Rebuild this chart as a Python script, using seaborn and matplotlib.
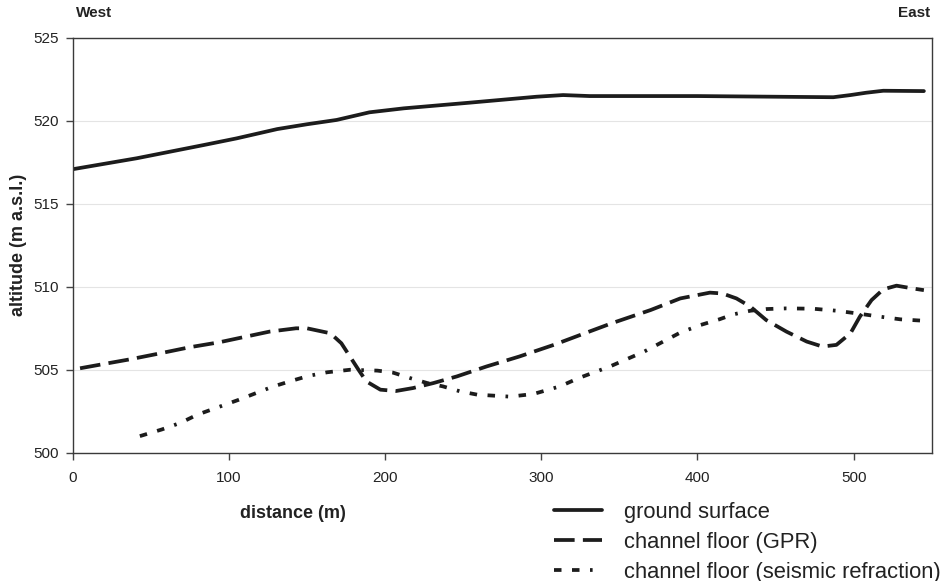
import matplotlib
matplotlib.use("Agg")
import matplotlib.pyplot as plt
import seaborn as sns
import pandas as pd

# Ground surface profile (distance in m, altitude in m a.s.l.)
ground_x = [0, 41, 84, 105, 131, 150, 169, 190, 212, 254, 297, 314, 331, 400,
            487, 498, 508, 519, 545]
ground_y = [517.09, 517.75, 518.55, 518.95, 519.51, 519.8, 520.06, 520.52,
            520.76, 521.1, 521.46, 521.56, 521.5, 521.5, 521.43, 521.56,
            521.7, 521.82, 521.8]

# Channel floor from ground-penetrating radar
gpr_x = [4.7, 20, 36.7, 53.8, 75, 94, 111, 126, 143, 150, 165, 172, 177.5,
         183, 188, 197, 207, 218, 231, 246, 265, 286, 308, 325, 345, 370,
         389, 408, 416, 425, 434, 444, 457, 470, 480, 489, 498, 504, 511.5,
         519, 527.5, 538, 545]
gpr_y = [505.09, 505.35, 505.63, 505.95, 506.36, 506.66, 507.0, 507.3,
         507.5, 507.5, 507.2, 506.6, 505.8, 505.0, 504.3, 503.8, 503.72,
         503.9, 504.2, 504.6, 505.2, 505.8, 506.5, 507.1, 507.8, 508.6,
         509.3, 509.65, 509.6, 509.3, 508.8, 508.0, 507.3, 506.7, 506.4,
         506.5, 507.2, 508.2, 509.2, 509.85, 510.07, 509.9, 509.8]

# Channel floor from seismic refraction
seis_x = [43, 57, 69, 80, 93, 106, 117, 128, 140, 151, 163, 177.5, 195, 205,
          216, 227, 237, 248, 259, 280, 295, 312, 324, 344, 366, 389, 402,
          414, 423, 434, 444, 457, 474, 489, 502, 517, 530, 544]
seis_y = [501.0, 501.4, 501.8, 502.3, 502.74, 503.18, 503.58, 503.98,
          504.33, 504.63, 504.85, 505.0, 504.95, 504.83, 504.5, 504.2, 504.0,
          503.7, 503.5, 503.38, 503.54, 504.0, 504.5, 505.2, 506.1, 507.24,
          507.7, 508.04, 508.34, 508.56, 508.66, 508.7, 508.68, 508.56,
          508.4, 508.2, 508.04, 507.96]

series_names = ["ground surface", "channel floor (GPR)",
                "channel floor (seismic refraction)"]
x_ticks = [0, 100, 200, 300, 400, 500]
y_ticks = [500, 505, 510, 515, 520, 525]

sns.set_theme(style="white")
plt.rcParams["font.family"] = ["Liberation Sans", "DejaVu Sans"]

ink = "#1c1c1c"
fig = plt.figure(figsize=(9.43, 5.81), dpi=100)
ax = fig.add_axes([0.0771, 0.2208, 0.9109, 0.7138])

line_styles = [
    "-",
    (0, (5.5, 2.2)),
    (0, (2.0, 2.8, 2.0, 2.8, 0.7, 2.8)),
]
data = [(ground_x, ground_y), (gpr_x, gpr_y), (seis_x, seis_y)]
for (xs, ys), name, ls in zip(data, series_names, line_styles):
    df = pd.DataFrame({"distance": xs, "altitude": ys})
    sns.lineplot(data=df, x="distance", y="altitude", ax=ax, color=ink,
                 linewidth=2.7, linestyle=ls, label=name, estimator=None)

ax.set_xlim(0, 550)
ax.set_ylim(500, 525)
ax.set_xticks(x_ticks)
ax.set_yticks(y_ticks)
ax.tick_params(axis="both", which="major", direction="out", length=5,
               width=1, color="#444444", labelsize=11, labelcolor="#222222",
               left=True, bottom=True)
ax.tick_params(axis="x", pad=8)
ax.tick_params(axis="y", pad=5)
ax.yaxis.grid(True, color="#e4e4e4", linewidth=0.8)
ax.xaxis.grid(False)
for side in ["left", "right", "top", "bottom"]:
    ax.spines[side].set_visible(True)
    ax.spines[side].set_color("#3a3a3a")
    ax.spines[side].set_linewidth(1.0)

ax.set_xlabel("")
ax.set_ylabel("")
fig.text(0.0195, 0.578, "altitude (m a.s.l.)", rotation=90, ha="center",
         va="center", fontsize=13, fontweight="bold", color="#222222")
fig.text(0.311, 0.117, "distance (m)", ha="center", va="center",
         fontsize=13, fontweight="bold", color="#222222")
fig.text(0.0805, 0.977, "West", ha="left", va="center", fontsize=11,
         fontweight="bold", color="#222222")
fig.text(0.986, 0.977, "East", ha="right", va="center", fontsize=11,
         fontweight="bold", color="#222222")

handles, labels = ax.get_legend_handles_labels()
ax.legend_.remove()
fig.legend(handles, labels, loc="upper left",
           bbox_to_anchor=(0.587, 0.1365), frameon=False, fontsize=15.8,
           handlelength=2.2, handletextpad=1.0, labelspacing=0.41,
           borderpad=0, borderaxespad=0, labelcolor="#222222")

fig.savefig("out.png", dpi=100, facecolor="white")
